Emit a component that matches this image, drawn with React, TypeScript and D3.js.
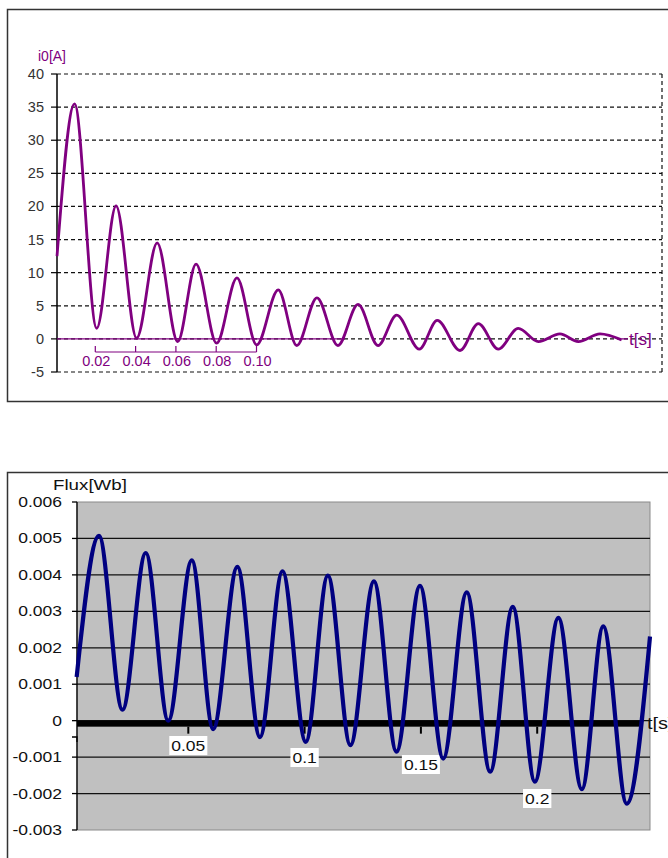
import React from 'react';
import * as d3 from 'd3';

// ---------- Data: inrush current i0 [A] (extrema) ----------
const CURRENT_T = [0.001, 0.0097, 0.0207, 0.0303, 0.0405, 0.0507, 0.0609, 0.070, 0.0802, 0.0903, 0.1001, 0.1108, 0.12, 0.13, 0.1404, 0.1504, 0.1603, 0.1696, 0.1808, 0.1897, 0.201, 0.2101, 0.22, 0.2299, 0.2399, 0.2506, 0.2597, 0.2705, 0.2812];
const CURRENT_A = [12.5, 35.5, 1.6, 20.1, 0.1, 14.5, -0.4, 11.3, -0.65, 9.2, -0.9, 7.4, -1.0, 6.2, -1.0, 5.2, -1.0, 3.6, -1.55, 2.8, -1.75, 2.3, -1.55, 1.6, -0.4, 0.75, -0.4, 0.75, -0.15];
const CURRENT_Y_TICKS = [40, 35, 30, 25, 20, 15, 10, 5, 0, -5];
const CURRENT_Y_LABELS = ['40', '35', '30', '25', '20', '15', '10', '5', '0', '-5'];
const CURRENT_X_TICKS = [0.02, 0.04, 0.06, 0.08, 0.10];
const CURRENT_X_LABELS = ['0.02', '0.04', '0.06', '0.08', '0.10'];

// ---------- Data: flux [Wb] (extrema) ----------
const FLUX_T = [0.002, 0.0116, 0.0217, 0.0317, 0.0414, 0.0515, 0.0607, 0.0711, 0.0808, 0.0905, 0.1005, 0.110, 0.1197, 0.1298, 0.1395, 0.1496, 0.1596, 0.1697, 0.1798, 0.1895, 0.199, 0.2091, 0.2192, 0.2284, 0.2385, 0.2485];
const FLUX_WB = [0.0012, 0.00507, 0.0003, 0.0046, 0.0, 0.0044, -0.00023, 0.00422, -0.00045, 0.0041, -0.00058, 0.00398, -0.00067, 0.00382, -0.00085, 0.0037, -0.00104, 0.00352, -0.0014, 0.00312, -0.00167, 0.00282, -0.00188, 0.00259, -0.00228, 0.00231];
const FLUX_Y_TICKS = [0.006, 0.005, 0.004, 0.003, 0.002, 0.001, 0, -0.001, -0.002, -0.003];
const FLUX_Y_LABELS = ['0.006', '0.005', '0.004', '0.003', '0.002', '0.001', '0', '-0.001', '-0.002', '-0.003'];
const FLUX_X_TICKS = [0.05, 0.1, 0.15, 0.2];
const FLUX_X_LABELS = ['0.05', '0.1', '0.15', '0.2'];

// layout only: vertical stagger of the flux x labels (px)
const FLUX_LABEL_STAGGER = [0, 12, 19, 53];

const FONT = '"Liberation Sans", Arial, sans-serif';
const SX = 1.25; // horizontal stretch of the lower chart's text
const PURPLE = '#800080';
const NAVY = '#000080';

function charW(s: string, size: number) {
  let w = 0;
  for (const c of s) w += c === '.' ? 0.278 : c === '-' ? 0.333 : 0.556;
  return w * size;
}

function SText(props: { x: number; y: number; anchor?: string; size?: number; fill?: string; children: React.ReactNode }) {
  const { x, y, anchor = 'start', size = 14, fill = '#111', children } = props;
  return (
    <text transform={`translate(${x},${y}) scale(${SX},1)`} textAnchor={anchor as any} fontSize={size} fill={fill} fontFamily={FONT}>
      {children}
    </text>
  );
}

export default function App() {
  // ----- top chart scales -----
  const xc = d3.scaleLinear().domain([0, 0.1]).range([55, 256.5]);
  const yc = d3.scaleLinear().domain([-5, 40]).range([372, 74]);
  const cLine = d3.line<number>().x((_, i) => xc(CURRENT_T[i])).y((d) => yc(d)).curve(d3.curveMonotoneX);
  const cPath = cLine(CURRENT_A) || '';

  // ----- bottom chart scales -----
  const xf = d3.scaleLinear().domain([0, 0.05]).range([72, 188.3]);
  const yf = d3.scaleLinear().domain([-0.003, 0.006]).range([830, 502]);
  const fLine = d3.line<number>().x((_, i) => xf(FLUX_T[i])).y((d) => yf(d)).curve(d3.curveMonotoneX);
  const fPath = fLine(FLUX_WB) || '';

  const cLeft = 57, cRight = 662;
  const fLeft = 77, fRight = 650;

  return (
    <svg width={668} height={858} style={{ position: 'absolute', left: 0, top: 0, display: 'block', background: '#fff' }}>
      {/* ================= TOP CHART ================= */}
      <rect x={7.5} y={9.5} width={700} height={392} fill="#fff" stroke="#333" strokeWidth={1.5} />
      {/* dashed grid */}
      {CURRENT_Y_TICKS.map((v) => (
        <line key={'cg' + v} x1={cLeft} x2={cRight} y1={yc(v)} y2={yc(v)} stroke="#111" strokeWidth={1.2} strokeDasharray="4,3" />
      ))}
      <line x1={cRight} x2={cRight} y1={yc(40)} y2={yc(-5)} stroke="#111" strokeWidth={1.2} strokeDasharray="4,3" />
      {/* y axis */}
      <line x1={cLeft} x2={cLeft} y1={yc(40)} y2={yc(-5)} stroke="#000" strokeWidth={1.5} />
      {CURRENT_Y_TICKS.map((v, i) => (
        <g key={'ct' + v}>
          <line x1={cLeft - 6} x2={cLeft} y1={yc(v)} y2={yc(v)} stroke="#000" strokeWidth={1.2} />
          <text x={44} y={yc(v) + 5} textAnchor="end" fontSize={14.5} fill="#333" fontFamily={FONT}>
            {CURRENT_Y_LABELS[i]}
          </text>
        </g>
      ))}
      <text x={38} y={61} fontSize={14} fill={PURPLE} fontFamily={FONT}>i0[A]</text>
      {/* zero line (purple) */}
      <line x1={cLeft} x2={345} y1={yc(0)} y2={yc(0)} stroke={PURPLE} strokeWidth={1.3} />
      {/* x bracket axis */}
      <line x1={xc(CURRENT_X_TICKS[0])} x2={xc(CURRENT_X_TICKS[CURRENT_X_TICKS.length - 1])} y1={352} y2={352} stroke={PURPLE} strokeWidth={1.2} />
      {CURRENT_X_TICKS.map((t, i) => (
        <g key={'cx' + t}>
          <line x1={xc(t)} x2={xc(t)} y1={352} y2={346} stroke={PURPLE} strokeWidth={1.2} />
          <text x={xc(t) + 1} y={366} textAnchor="middle" fontSize={14.5} fill={PURPLE} fontFamily={FONT}>
            {CURRENT_X_LABELS[i]}
          </text>
        </g>
      ))}
      {/* curve */}
      <path d={cPath} fill="none" stroke={PURPLE} strokeWidth={2.8} strokeLinejoin="round" />
      <line x1={xc(CURRENT_T[CURRENT_T.length - 1])} x2={628} y1={yc(0)} y2={yc(0)} stroke={PURPLE} strokeWidth={1.3} />
      <text x={629} y={yc(0) + 6} fontSize={17} fill={PURPLE} fontFamily={FONT}>t[s]</text>

      {/* ================= BOTTOM CHART ================= */}
      <rect x={7.5} y={472.5} width={700} height={420} fill="#fff" stroke="#333" strokeWidth={1.5} />
      <rect x={fLeft} y={yf(0.006)} width={fRight - fLeft} height={yf(-0.003) - yf(0.006)} fill="#C0C0C0" stroke="#8a8a8a" strokeWidth={1} />
      {FLUX_Y_TICKS.filter((v) => v !== 0.006 && v !== -0.003).map((v) => (
        <line key={'fg' + v} x1={fLeft} x2={fRight} y1={yf(v)} y2={yf(v)} stroke="#111" strokeWidth={1.3} />
      ))}
      {/* left axis */}
      <line x1={fLeft} x2={fLeft} y1={yf(0.006)} y2={yf(-0.003)} stroke="#000" strokeWidth={1.3} />
      {FLUX_Y_TICKS.map((v, i) => (
        <g key={'ft' + v}>
          <line x1={fLeft - 5} x2={fLeft} y1={yf(v)} y2={yf(v)} stroke="#000" strokeWidth={1.3} />
          <SText x={62} y={yf(v) + 5} anchor="end" size={14}>
            {FLUX_Y_LABELS[i]}
          </SText>
        </g>
      ))}
      <SText x={53} y={490} size={15}>Flux[Wb]</SText>
      {/* thick time axis */}
      <rect x={fLeft} y={yf(0)} width={643 - fLeft} height={6} fill="#000" />
      <path d={`M${xf(0)},737 H${fLeft} V742`} fill="none" stroke="#000" strokeWidth={1.3} />
      {FLUX_X_TICKS.map((t, i) => {
        const w = charW(FLUX_X_LABELS[i], 14) * SX + 4;
        const top = 736 + FLUX_LABEL_STAGGER[i];
        return (
          <g key={'fx' + t}>
            <line x1={xf(t)} x2={xf(t)} y1={yf(0) + 6} y2={yf(0) + 13} stroke="#000" strokeWidth={2} />
            <rect x={xf(t) - w / 2} y={top} width={w} height={19} fill="#fff" />
            <SText x={xf(t)} y={top + 15} anchor="middle" size={14}>
              {FLUX_X_LABELS[i]}
            </SText>
          </g>
        );
      })}
      <path d={fPath} fill="none" stroke={NAVY} strokeWidth={4.2} strokeLinejoin="round" />
      <SText x={647} y={yf(0) + 8} size={16}>t[s]</SText>
    </svg>
  );
}
